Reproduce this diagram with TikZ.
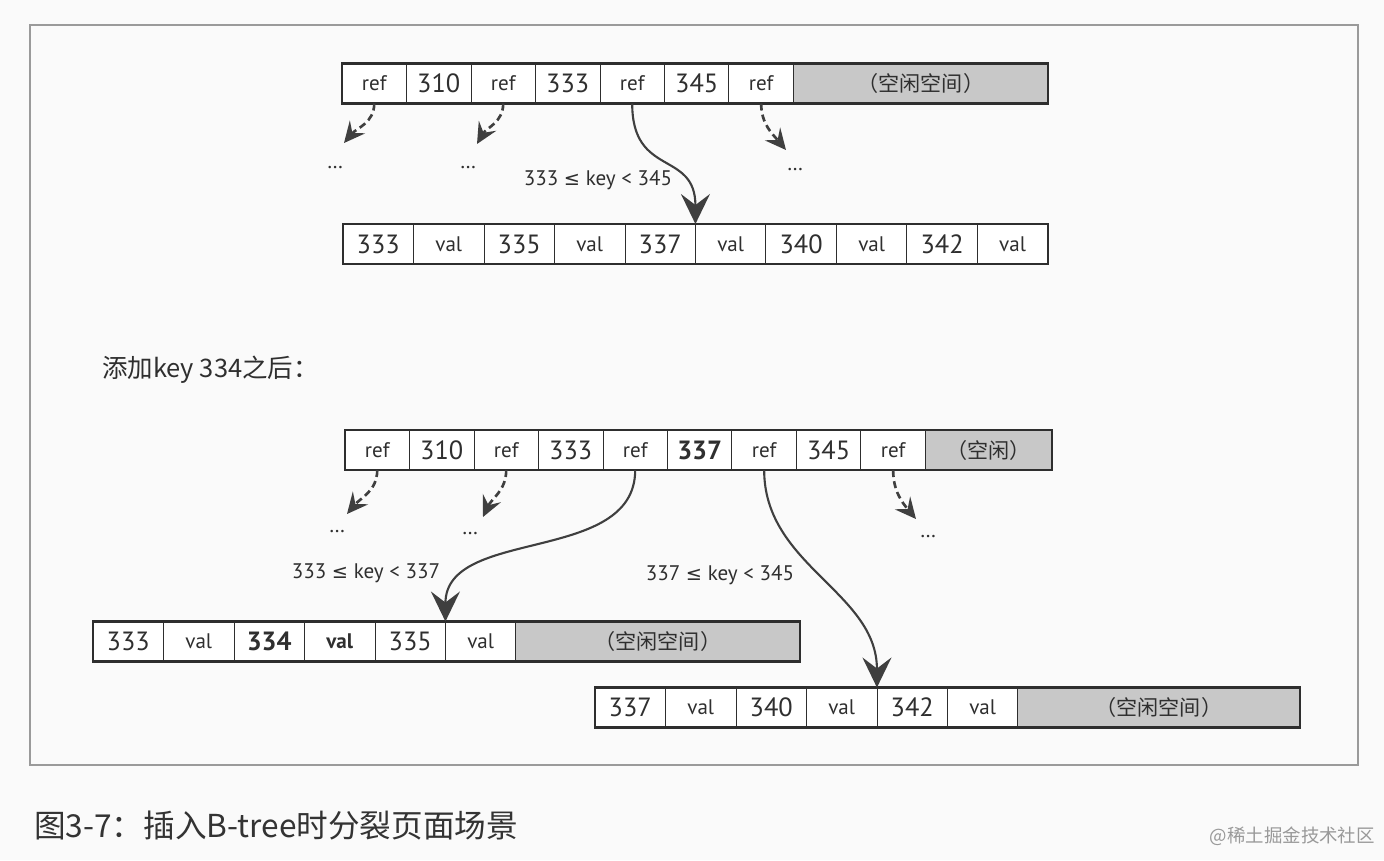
\documentclass[tikz,border=0pt]{standalone}
\usepackage{fontspec}
\setmainfont{PT Sans}
\newfontfamily\cjk{Noto Sans CJK SC}
\newfontfamily\symfont{DejaVu Sans}
\usetikzlibrary{arrows.meta,positioning}
\definecolor{linegray}{HTML}{2E2E2E}
\definecolor{arrowgray}{HTML}{3F3F3F}
\definecolor{freegray}{HTML}{C8C8C8}
\definecolor{framegray}{HTML}{9A9A9A}
\definecolor{textgray}{HTML}{2F2F2F}
\definecolor{paper}{HTML}{FAFAFA}
\newcommand{\keyle}{{\symfont\fontsize{11}{13}\selectfont ≤}}

\begin{document}
\begin{tikzpicture}[
    x=0.02cm, y=-0.02cm,
    node distance=0pt,
    cell/.style={draw=linegray, line width=0.5pt, fill=white, minimum height=0.8cm, inner sep=0pt, outer sep=0pt, text=textgray},
    keycell/.style={cell, minimum width=1.29cm, font=\fontsize{15}{18}\selectfont},
    ptr/.style={cell, minimum width=1.29cm, font=\fontsize{12}{14}\selectfont},
    leafkey/.style={cell, minimum width=1.41cm, font=\fontsize{15}{18}\selectfont},
    leafval/.style={cell, minimum width=1.41cm, font=\fontsize{12}{14}\selectfont},
    freecell/.style={cell, fill=freegray, font=\cjk\fontsize{12}{14}\selectfont},
    outline/.style={draw=linegray, line width=1.2pt},
    link/.style={-{Stealth[length=6mm, width=5.8mm, inset=2.2mm]}, draw=arrowgray, line width=1.2pt},
    more/.style={link, -{Stealth[length=4.2mm, width=4mm, inset=1.6mm]}, line width=1.5pt, dash pattern=on 4pt off 2.4pt},
    rangelabel/.style={font=\fontsize{12}{14}\selectfont, text=textgray},
    dotslabel/.style={font=\fontsize{12}{14}\selectfont, text=textgray}
]
\path[fill=paper] (0,0) rectangle (1384,860);
\draw[framegray, line width=0.9pt] (30,25) rectangle (1358,765);

% inner page before the split
\node[ptr, anchor=west] (a1) at (342,83.5) {ref};
\node[keycell, right=of a1] (a2) {310};
\node[ptr, right=of a2] (a3) {ref};
\node[keycell, right=of a3] (a4) {333};
\node[ptr, right=of a4] (a5) {ref};
\node[keycell, right=of a5] (a6) {345};
\node[ptr, right=of a6] (a7) {ref};
\node[freecell, right=of a7, minimum width=5.1cm] (a8) {（空闲空间）};
\draw[outline] (a1.north west) rectangle (a8.south east);

% leaf page before the split
\node[leafkey, anchor=west] (b1) at (343,244) {333};
\node[leafval, right=of b1] (b2) {val};
\node[leafkey, right=of b2] (b3) {335};
\node[leafval, right=of b3] (b4) {val};
\node[leafkey, right=of b4] (b5) {337};
\node[leafval, right=of b5] (b6) {val};
\node[leafkey, right=of b6] (b7) {340};
\node[leafval, right=of b7] (b8) {val};
\node[leafkey, right=of b8] (b9) {342};
\node[leafval, right=of b9] (b10) {val};
\draw[outline] (b1.north west) rectangle (b10.south east);

\node[dotslabel] (dotsa1) at (335,168) {…};
\node[dotslabel] (dotsa3) at (468,168) {…};
\node[dotslabel] (dotsa7) at (795,170) {…};
\coordinate (tipa1) at (344,143);
\coordinate (tipa3) at (477,144);
\coordinate (tipa7) at (786,150);
\draw[more] (a1.south) to[out=-90, in=50] (tipa1);
\draw[more] (a3.south) to[out=-90, in=60] (tipa3);
\draw[more] (a7.south) to[out=-90, in=130] (tipa7);
\draw[link] (a5.south) to[out=-90, in=90, looseness=1.4] (b5.north east);
\node[rangelabel] (rangea) at (598,180) {333 \keyle{} key < 345};

\node[font=\cjk\fontsize{14.5}{17}\selectfont, text=textgray, anchor=west] (after) at (96,370) {添加key 334之后：};

% inner page after the split
\node[ptr, anchor=west] (c1) at (345,450) {ref};
\node[keycell, right=of c1] (c2) {310};
\node[ptr, right=of c2] (c3) {ref};
\node[keycell, right=of c3] (c4) {333};
\node[ptr, right=of c4] (c5) {ref};
\node[keycell, right=of c5] (c6) {\bfseries 337};
\node[ptr, right=of c6] (c7) {ref};
\node[keycell, right=of c7] (c8) {345};
\node[ptr, right=of c8] (c9) {ref};
\node[freecell, right=of c9, minimum width=2.54cm] (c10) {（空闲）};
\draw[outline] (c1.north west) rectangle (c10.south east);

% two leaf pages after the split
\node[leafkey, anchor=west] (d1) at (93,641.5) {333};
\node[leafval, right=of d1] (d2) {val};
\node[leafkey, right=of d2] (d3) {\bfseries 334};
\node[leafval, right=of d3] (d4) {\bfseries val};
\node[leafkey, right=of d4] (d5) {335};
\node[leafval, right=of d5] (d6) {val};
\node[freecell, right=of d6, minimum width=5.68cm] (d7) {（空闲空间）};
\draw[outline] (d1.north west) rectangle (d7.south east);

\node[leafkey, anchor=west] (e1) at (595,707.5) {337};
\node[leafval, right=of e1] (e2) {val};
\node[leafkey, right=of e2] (e3) {340};
\node[leafval, right=of e3] (e4) {val};
\node[leafkey, right=of e4] (e5) {342};
\node[leafval, right=of e5] (e6) {val};
\node[freecell, right=of e6, minimum width=5.64cm] (e7) {（空闲空间）};
\draw[outline] (e1.north west) rectangle (e7.south east);

\node[dotslabel] (dotsc1) at (337,532) {…};
\node[dotslabel] (dotsc3) at (470,534) {…};
\node[dotslabel] (dotsc9) at (928,537) {…};
\coordinate (tipc1) at (347,514);
\coordinate (tipc3) at (483,517);
\coordinate (tipc9) at (916,519);
\draw[more] (c1.south) to[out=-90, in=50] (tipc1);
\draw[more] (c3.south) to[out=-90, in=65] (tipc3);
\draw[more] (c9.south) to[out=-90, in=130] (tipc9);
\draw[link] (c5.south) to[out=-90, in=90] (d5.north east);
\draw[link] (c7.south) to[out=-90, in=90] (e4.north east);
\node[rangelabel] (rangec5) at (366,573) {333 \keyle{} key < 337};
\node[rangelabel] (rangec7) at (720,575) {337 \keyle{} key < 345};

% caption and mark
\node[font=\cjk\fontsize{18}{22}\selectfont, text=black!80, anchor=west] (caption) at (28,826) {图3-7：插入B-tree时分裂页面场景};
\node[font=\cjk\fontsize{10.5}{12}\selectfont, text=black!40, anchor=east] (mark) at (1381,836) {@稀土掘金技术社区};
\end{tikzpicture}
\end{document}
